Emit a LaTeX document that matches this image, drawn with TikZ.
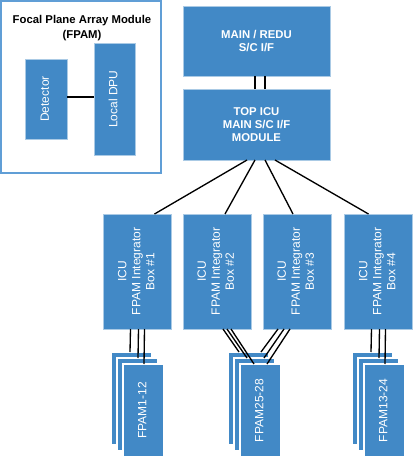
\documentclass[tikz,border=0pt]{standalone}
\usepackage{fontspec}
\setmainfont{Liberation Sans}
\usepackage{graphicx}
\usetikzlibrary{calc}
\definecolor{boxblue}{RGB}{66,137,198}
\definecolor{framebl}{RGB}{96,158,214}
\newcommand\vtext[1]{\rotatebox{90}{\begin{tabular}{@{}c@{}}#1\end{tabular}}}
\begin{document}
\begin{tikzpicture}[x=0.75pt,y=-0.75pt,
  blk/.style={fill=boxblue, draw=boxblue!45!white, line width=0.6pt, inner sep=0pt, outer sep=0pt,
    text=white, font=\fontsize{9}{10.5}\selectfont, align=center},
  hdr/.style={blk, font=\bfseries\fontsize{8.5}{10}\selectfont},
  card/.style={blk, draw=white, line width=0.8pt, minimum width=41*0.75pt, minimum height=93*0.75pt},
  icu/.style={blk, minimum width=68*0.75pt, minimum height=115*0.75pt},
  wire/.style={draw=black, line width=1pt}]
\useasboundingbox (0,0) rectangle (415,461);

% FPAM legend frame
\node[draw=framebl, line width=1.5pt, minimum width=160*0.75pt, minimum height=172*0.75pt,
  inner sep=0pt, outer sep=0pt] (fpam) at (81,87) {};
\node[anchor=north, inner sep=0pt, align=center, font=\bfseries\fontsize{8.5}{11}\selectfont]
  (title) at (82,15) {Focal Plane Array Module\\(FPAM)};
\node[blk, minimum width=42*0.75pt, minimum height=80*0.75pt] (det) at (46,99) {\vtext{Detector}};
\node[blk, minimum width=41*0.75pt, minimum height=112*0.75pt] (dpu) at (114.5,99) {\vtext{Local DPU}};
\draw[wire] ($(det.east)+(0,-2)$) -- ($(dpu.west)+(0,-2)$);

% top boxes
\node[hdr, minimum width=147*0.75pt, minimum height=70*0.75pt] (main) at (256.5,41) {MAIN / REDU\\S/C I/F};
\node[hdr, minimum width=147*0.75pt, minimum height=71*0.75pt] (top) at (256.5,124.5) {TOP ICU\\MAIN S/C I/F\\MODULE};
\draw[wire] ($(main.south west)+(72,0)$) -- ($(top.north west)+(72,0)$);
\draw[wire] ($(main.south west)+(82,0)$) -- ($(top.north west)+(82,0)$);

% integrator boxes
\node[icu] (b1) at (137.5,271.5) {\vtext{ICU\\FPAM Integrator\\Box \#1}};
\node[icu] (b2) at (217,271.5) {\vtext{ICU\\FPAM Integrator\\Box \#2}};
\node[icu] (b3) at (297,271.5) {\vtext{ICU\\FPAM Integrator\\Box \#3}};
\node[icu] (b4) at (378.5,271.5) {\vtext{ICU\\FPAM Integrator\\Box \#4}};
\draw[wire] ($(top.south west)+(64,0)$) -- ($(b1.north west)+(51,0)$);
\draw[wire] ($(top.south west)+(72,0)$) -- ($(b2.north west)+(42,0)$);
\draw[wire] ($(top.south west)+(82,0)$) -- ($(b3.north west)+(30,0)$);
\draw[wire] ($(top.south west)+(92,0)$) -- ($(b4.north west)+(24,0)$);

% FPAM card stacks
\node[card] (s1a) at (131.5,398.5) {};
\node[card] (s1b) at (137.5,404.5) {};
\node[card] (s1c) at (143.5,410.5) {\vtext{FPAM1-12}};
\node[card] (s2a) at (248.5,398.5) {};
\node[card] (s2b) at (254.5,404.5) {};
\node[card] (s2c) at (260.5,410.5) {\vtext{FPAM25-28}};
\node[card] (s3a) at (372.5,398.5) {};
\node[card] (s3b) at (378.5,404.5) {};
\node[card] (s3c) at (384.5,410.5) {\vtext{FPAM13-24}};

% wires to stack 1
\draw[wire] ($(b1.south west)+(27,0)$) -- ($(s1a.north west)+(19,0)$);
\draw[wire] ($(b1.south west)+(35,0)$) -- ($(s1b.north west)+(21,0)$);
\draw[wire] ($(b1.south west)+(41,0)$) -- ($(s1c.north west)+(21,0)$);
% wires to stack 3
\draw[wire] ($(b4.south west)+(27,0)$) -- ($(s3a.north west)+(19,0)$);
\draw[wire] ($(b4.south west)+(35,0)$) -- ($(s3b.north west)+(21,0)$);
\draw[wire] ($(b4.south west)+(41,0)$) -- ($(s3c.north west)+(21,0)$);
% wires to stack 2
\draw[wire] ($(b2.south west)+(40,0)$) -- ($(s2a.north west)+(11,0)$);
\draw[wire] ($(b2.south west)+(44,0)$) -- ($(s2b.north west)+(13,0)$);
\draw[wire] ($(b2.south west)+(48,0)$) -- ($(s2c.north west)+(14,0)$);
\draw[wire] ($(b3.south west)+(15,0)$) -- ($(s2a.north west)+(33,0)$);
\draw[wire] ($(b3.south west)+(21,0)$) -- ($(s2b.north west)+(30,0)$);
\draw[wire] ($(b3.south west)+(27,0)$) -- ($(s2c.north west)+(27,0)$);
\end{tikzpicture}
\end{document}
